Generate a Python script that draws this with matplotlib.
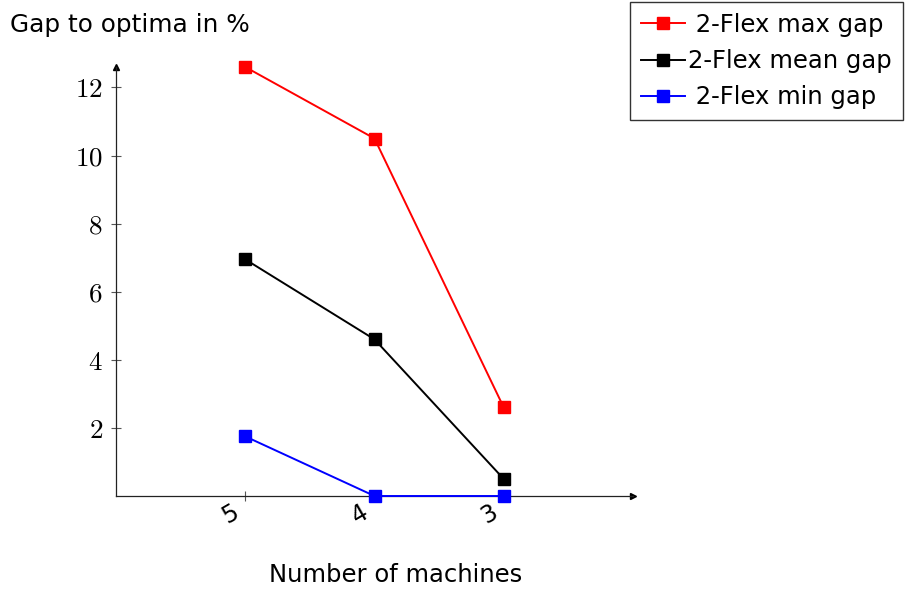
import matplotlib as mpl
mpl.use('Agg')
import matplotlib.pyplot as plt
import matplotlib.transforms as mtrans

# data
machines = [5, 4, 3]
max_gap = [12.6, 10.5, 2.6]
mean_gap = [6.95, 4.6, 0.5]
min_gap = [1.75, 0.0, 0.0]
yticks = [2, 4, 6, 8, 10, 12]

plt.rcParams['mathtext.fontset'] = 'cm'
plt.rcParams['font.family'] = 'DejaVu Sans'

fig = plt.figure(figsize=(9.05, 5.89), dpi=100)
ax = fig.add_axes([116/905, 1-496/589, (633-116)/905, (496-67)/589])

ax.plot(machines, max_gap, color='red', lw=1.4, marker='s', ms=8,
        label=' 2-Flex max gap', clip_on=False)
ax.plot(machines, mean_gap, color='black', lw=1.4, marker='s', ms=8,
        label='2-Flex mean gap', clip_on=False)
ax.plot(machines, min_gap, color='blue', lw=1.4, marker='s', ms=8,
        label=' 2-Flex min gap', clip_on=False, zorder=5)

ax.set_xlim(6, 2)
ax.set_ylim(0, 12.6)

for s in ['top', 'right']:
    ax.spines[s].set_visible(False)
for s in ['left', 'bottom']:
    ax.spines[s].set_linewidth(0.9)
    ax.spines[s].set_color('#222222')

# arrow heads at the axis ends
ax.plot(1, 0, '>', color='black', ms=5, transform=ax.transAxes, clip_on=False)
ax.plot(0, 1, '^', color='black', ms=5, transform=ax.transAxes, clip_on=False)

ax.set_xticks(machines)
ax.set_yticks(yticks)
ax.set_yticklabels(['$%d$' % t for t in yticks], fontsize=19.5)
ax.tick_params(direction='inout', length=7, width=0.8, color='#555555')
ax.tick_params(axis='y', pad=6)
ax.tick_params(axis='x', pad=3)
ax.set_xticklabels([str(m) for m in machines], rotation=30, ha='right',
                   va='top', rotation_mode='anchor', fontsize=17)
# nudge the rotated labels down-left of their ticks
shift = mtrans.ScaledTranslation(-14/100, 5/100, fig.dpi_scale_trans)
for lab in ax.get_xticklabels():
    lab.set_transform(lab.get_transform() + shift)

fig.text(10/905, 1-25/589, 'Gap to optima in %', fontsize=17.8, va='center', ha='left')
fig.text(396/905, 1-575/589, 'Number of machines', fontsize=17.5, va='center', ha='center')

leg = fig.legend(loc='upper right', bbox_to_anchor=(903/905, 1-2/589),
                 fontsize=17.5, frameon=True, fancybox=False, edgecolor='black',
                 handlelength=1.8, handletextpad=0.15, borderpad=0.45,
                 labelspacing=0.5, borderaxespad=0)
leg.get_frame().set_linewidth(1.0)

fig.savefig('out.png', dpi=100)
